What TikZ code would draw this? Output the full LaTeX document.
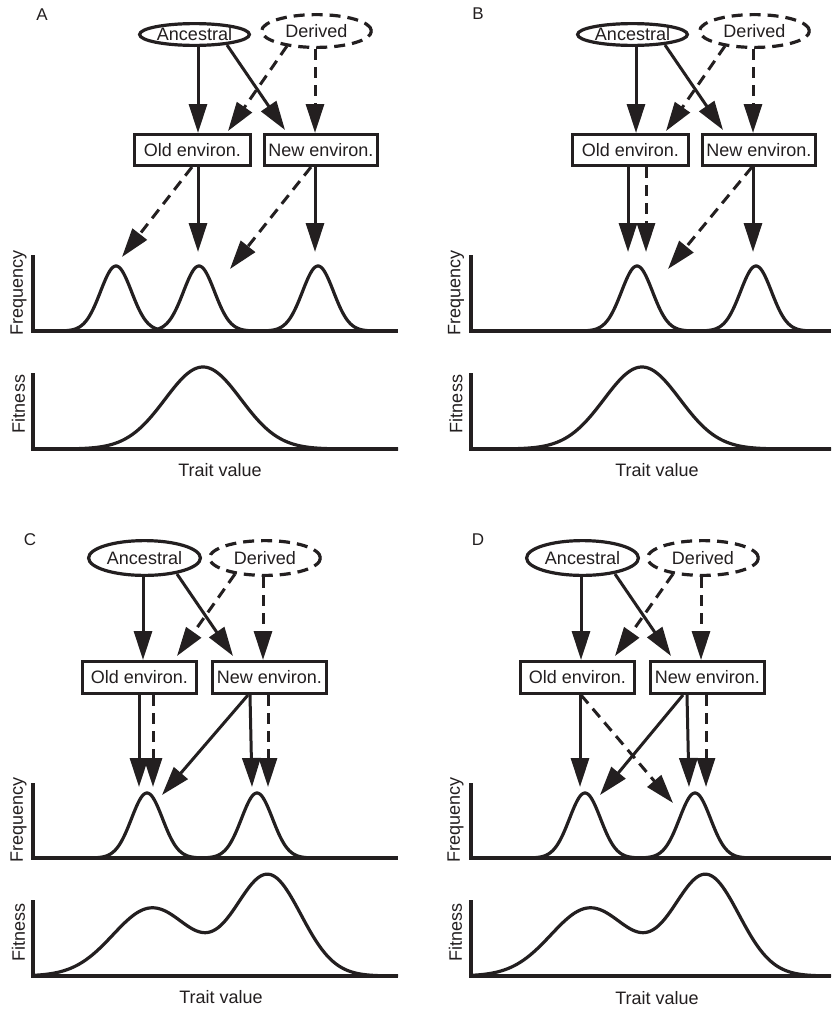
\documentclass[tikz,border=0pt]{standalone}
\usepackage{fontspec}
\setmainfont{Liberation Sans}
\usetikzlibrary{arrows.meta,shapes.geometric}
\definecolor{ink}{RGB}{35,31,32}
\begin{document}
\begin{tikzpicture}[x=1pt,y=-1pt,color=ink,
  font=\fontsize{18}{21}\selectfont,
  declare function={g(\x,\m,\s)=exp(-min(0.5*((\x-\m)/\s)^2,9));}]
\tikzset{
  ancst/.style={ellipse, draw=ink, line width=3.2pt, inner sep=0pt, outer sep=1.6pt},
  derst/.style={ancst, dash pattern=on 11pt off 7pt},
  envbox/.style={rectangle, draw=ink, line width=3.2pt, inner sep=0pt, outer sep=1.6pt, fill=white},
  sarr/.style={draw=ink, line width=3pt, -{Triangle[length=29pt,width=18pt]}},
  darr/.style={sarr, dash pattern=on 11pt off 7pt},
  curve/.style={draw=ink, line width=3.2pt, line join=round},
  axisln/.style={draw=ink, line width=3.2pt},
  plab/.style={font=\fontsize{17}{19}\selectfont},
  ylab/.style={rotate=90}
}
\fill[white] (0,0) rectangle (831,1009);
\useasboundingbox (0,0) rectangle (831,1009);

% ================= Panel A =================
\node[plab] (labA) at (42,15) {A};
\node[ancst, minimum width=109.8pt, minimum height=21.8pt] (ancA) at (194.5,34.5) {Ancestral};
\node[derst, minimum width=109.8pt, minimum height=32.8pt] (derA) at (316.5,31) {Derived};
\node[envbox, minimum width=115.8pt, minimum height=30.8pt] (oldA) at (192.5,150) {Old environ.};
\node[envbox, minimum width=112.8pt, minimum height=30.8pt] (newA) at (321,150) {New environ.};
\draw[sarr] ([shift={(3.5,0)}]ancA.south) -- ([shift={(5.5,0)}]oldA.north);
\draw[sarr] ([shift={(32.5,-2)}]ancA.south) -- ([shift={(-36,-3)}]newA.north);
\draw[darr] ([shift={(-29.5,-3)}]derA.south) -- ([shift={(35.5,-2)}]oldA.north);
\draw[darr] ([shift={(-1.5,0)}]derA.south) -- ([shift={(-6,0)}]newA.north);
\coordinate (tA1) at (122,257);
\coordinate (tA2) at (198,252);
\coordinate (tA3) at (230,269);
\coordinate (tA4) at (315,252);
\draw[darr] ([shift={(-0.5,0)}]oldA.south) -- (tA1);
\draw[sarr] ([shift={(5.5,0)}]oldA.south) -- (tA2);
\draw[darr] ([shift={(-10,0)}]newA.south) -- (tA3);
\draw[sarr] ([shift={(-6,0)}]newA.south) -- (tA4);
\draw[axisln] (33,255) -- (33,331) -- (398,331);
\draw[curve] plot[domain=54:178, samples=120] (\x,{331-65*g(\x,116,15.5)});
\draw[curve] plot[domain=137:261, samples=120] (\x,{331-65*g(\x,199,15.5)});
\draw[curve] plot[domain=256:380, samples=120] (\x,{331-65*g(\x,318,15.5)});
\draw[axisln] (33,373) -- (33,449) -- (398,449);
\draw[curve] plot[domain=33:398, samples=200] (\x,{449-82*g(\x,203,38)});
\node[ylab] (frqA) at (18.5,293) {Frequency};
\node[ylab] (fitA) at (18.5,404) {Fitness};
\node (trA) at (220,470) {Trait value};

% ================= Panel B =================
\begin{scope}[shift={(438,0)}]
\node[plab] (labB) at (40,14) {B};
\node[ancst, minimum width=109.8pt, minimum height=21.8pt] (ancB) at (194.5,34.5) {Ancestral};
\node[derst, minimum width=109.8pt, minimum height=32.8pt] (derB) at (316.5,31) {Derived};
\node[envbox, minimum width=115.8pt, minimum height=30.8pt] (oldB) at (192.5,150) {Old environ.};
\node[envbox, minimum width=112.8pt, minimum height=30.8pt] (newB) at (321,150) {New environ.};
\draw[sarr] ([shift={(3.5,0)}]ancB.south) -- ([shift={(5.5,0)}]oldB.north);
\draw[sarr] ([shift={(32.5,-2)}]ancB.south) -- ([shift={(-36,-3)}]newB.north);
\draw[darr] ([shift={(-29.5,-3)}]derB.south) -- ([shift={(35.5,-2)}]oldB.north);
\draw[darr] ([shift={(-1.5,0)}]derB.south) -- ([shift={(-6,0)}]newB.north);
\coordinate (tB1) at (190,252);
\coordinate (tB2) at (208,252);
\coordinate (tB3) at (230,269);
\coordinate (tB4) at (315,252);
\draw[sarr] ([shift={(-2.5,0)}]oldB.south) -- (tB1);
\draw[darr] ([shift={(15.5,0)}]oldB.south) -- (tB2);
\draw[darr] ([shift={(-7,0)}]newB.south) -- (tB3);
\draw[sarr] ([shift={(-6,0)}]newB.south) -- (tB4);
\draw[axisln] (33,255) -- (33,331) -- (393,331);
\draw[curve] plot[domain=137:261, samples=120] (\x,{331-65*g(\x,199,15.5)});
\draw[curve] plot[domain=256:380, samples=120] (\x,{331-65*g(\x,318,15.5)});
\draw[axisln] (33,373) -- (33,449) -- (393,449);
\draw[curve] plot[domain=33:393, samples=200] (\x,{449-82*g(\x,204,38)});
\node[ylab] (frqB) at (18,293) {Frequency};
\node[ylab] (fitB) at (18,404) {Fitness};
\node (trB) at (219,470) {Trait value};
\end{scope}

% ================= Panel C =================
\node[plab] (labC) at (30,540) {C};
\node[ancst, minimum width=111.8pt, minimum height=34.8pt] (ancC) at (144.5,558) {Ancestral};
\node[derst, minimum width=110.8pt, minimum height=34.8pt] (derC) at (265,558) {Derived};
\node[envbox, minimum width=113.8pt, minimum height=31.8pt] (oldC) at (139.5,677.5) {Old environ.};
\node[envbox, minimum width=113.8pt, minimum height=31.8pt] (newC) at (269.5,677.5) {New environ.};
\draw[sarr] ([shift={(-1.5,0)}]ancC.south) -- ([shift={(3.5,0)}]oldC.north);
\draw[sarr] ([shift={(32.5,-3)}]ancC.south) -- ([shift={(-36.5,-4)}]newC.north);
\draw[darr] ([shift={(-30,-3)}]derC.south) -- ([shift={(37.5,-4)}]oldC.north);
\draw[darr] ([shift={(-2,0)}]derC.south) -- ([shift={(-6.5,0)}]newC.north);
\coordinate (tC1) at (139,787);
\coordinate (tC2) at (153,787);
\coordinate (tC3) at (162,795);
\coordinate (tC4) at (252,787);
\coordinate (tC5) at (268,787);
\draw[sarr] ([shift={(-0.5,0)}]oldC.south) -- (tC1);
\draw[darr] ([shift={(13.5,0)}]oldC.south) -- (tC2);
\draw[sarr] ([shift={(-21.5,0)}]newC.south) -- (tC3);
\draw[sarr] ([shift={(-19.5,0)}]newC.south) -- (tC4);
\draw[darr] ([shift={(-1.5,0)}]newC.south) -- (tC5);
\draw[axisln] (33,783) -- (33,858) -- (398,858);
\draw[curve] plot[domain=85:209, samples=120] (\x,{858-65*g(\x,147,15.5)});
\draw[curve] plot[domain=195:319, samples=120] (\x,{858-65*g(\x,257,15.5)});
\draw[axisln] (33,900) -- (33,976) -- (398,976);
\draw[curve] plot[domain=33:398, samples=240] (\x,{976-68*g(\x,152,39)-101*g(\x,268,33)});
\node[ylab] (frqC) at (18.5,820) {Frequency};
\node[ylab] (fitC) at (18.5,932) {Fitness};
\node (trC) at (221,997.5) {Trait value};

% ================= Panel D =================
\begin{scope}[shift={(438,0)}]
\node[plab] (labD) at (40,540) {D};
\node[ancst, minimum width=111.8pt, minimum height=34.8pt] (ancD) at (144.5,558) {Ancestral};
\node[derst, minimum width=110.8pt, minimum height=34.8pt] (derD) at (265,558) {Derived};
\node[envbox, minimum width=113.8pt, minimum height=31.8pt] (oldD) at (139.5,677.5) {Old environ.};
\node[envbox, minimum width=113.8pt, minimum height=31.8pt] (newD) at (269.5,677.5) {New environ.};
\draw[sarr] ([shift={(-1.5,0)}]ancD.south) -- ([shift={(3.5,0)}]oldD.north);
\draw[sarr] ([shift={(32.5,-3)}]ancD.south) -- ([shift={(-36.5,-4)}]newD.north);
\draw[darr] ([shift={(-30,-3)}]derD.south) -- ([shift={(37.5,-4)}]oldD.north);
\draw[darr] ([shift={(-2,0)}]derD.south) -- ([shift={(-6.5,0)}]newD.north);
\coordinate (tD1) at (142,787);
\coordinate (tD2) at (235,803);
\coordinate (tD3) at (162,795);
\coordinate (tD4) at (251,787);
\coordinate (tD5) at (268,787);
\draw[sarr] ([shift={(2.5,0)}]oldD.south) -- (tD1);
\draw[darr] ([shift={(3.5,0)}]oldD.south) -- (tD2);
\draw[sarr] ([shift={(-24.5,0)}]newD.south) -- (tD3);
\draw[sarr] ([shift={(-20.5,0)}]newD.south) -- (tD4);
\draw[darr] ([shift={(-1.5,0)}]newD.south) -- (tD5);
\draw[axisln] (33,783) -- (33,858) -- (393,858);
\draw[curve] plot[domain=85:209, samples=120] (\x,{858-65*g(\x,147,15.5)});
\draw[curve] plot[domain=195:319, samples=120] (\x,{858-65*g(\x,257,15.5)});
\draw[axisln] (33,900) -- (33,976) -- (393,976);
\draw[curve] plot[domain=33:393, samples=240] (\x,{976-68*g(\x,152,39)-101*g(\x,268,33)});
\node[ylab] (frqD) at (17.5,820) {Frequency};
\node[ylab] (fitD) at (17.5,932) {Fitness};
\node (trD) at (219,998) {Trait value};
\end{scope}
\end{tikzpicture}
\end{document}
